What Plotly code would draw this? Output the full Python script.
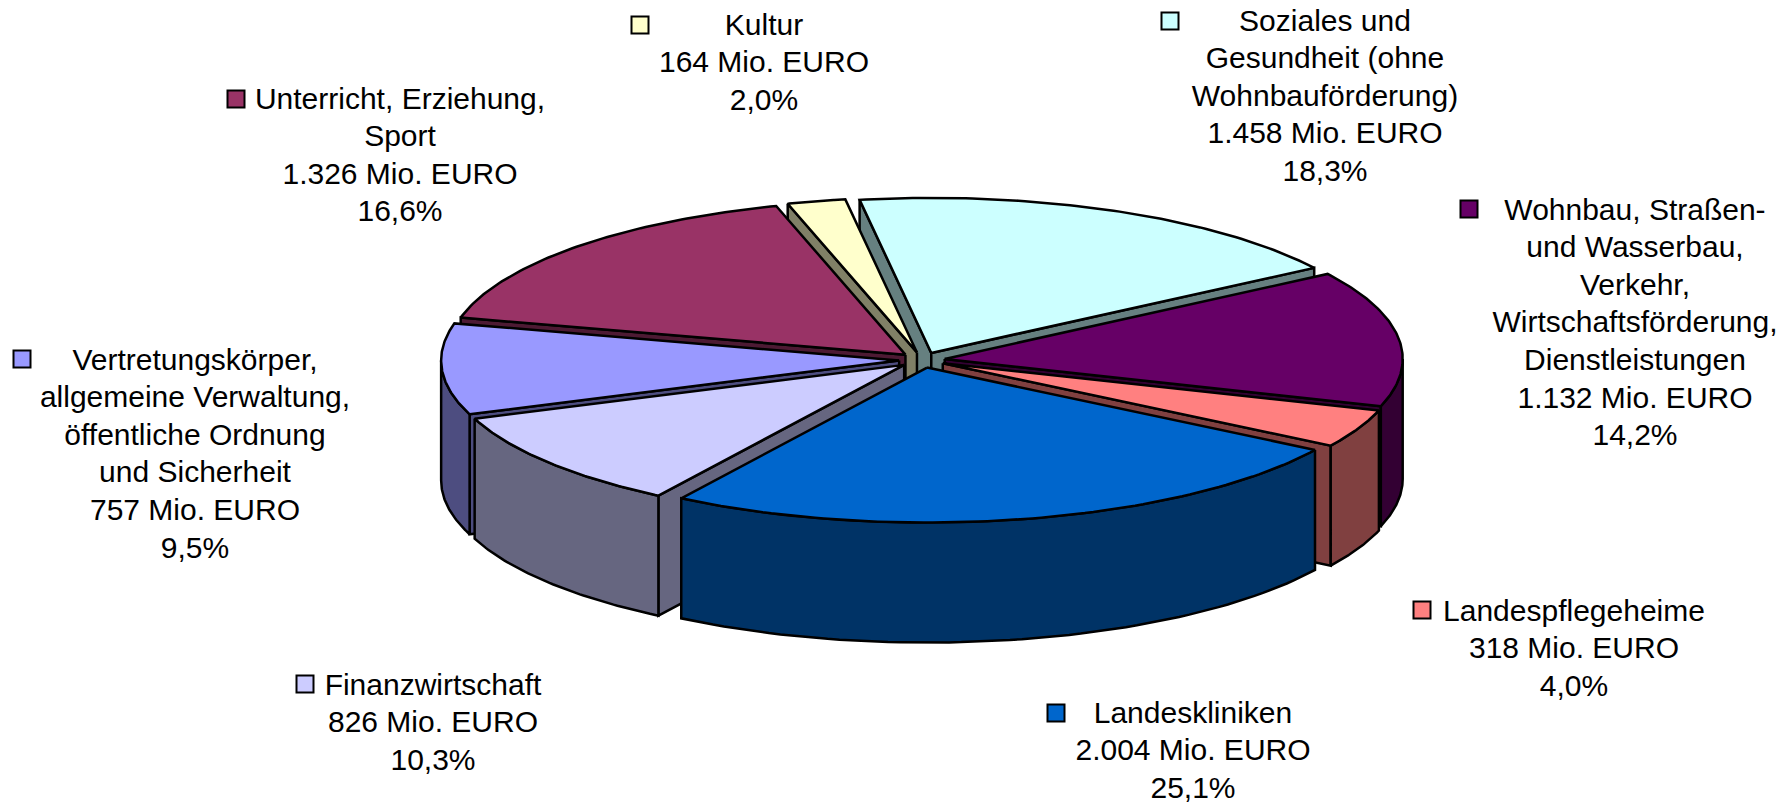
import numpy as np
import plotly.graph_objects as go

# ---- data -----------------------------------------------------------
categories = ["Soziales und Gesundheit (ohne Wohnbauförderung)",
              "Wohnbau, Straßen- und Wasserbau, Verkehr, Wirtschaftsförderung, Dienstleistungen",
              "Landespflegeheime", "Landeskliniken", "Finanzwirtschaft",
              "Vertretungskörper, allgemeine Verwaltung, öffentliche Ordnung und Sicherheit",
              "Unterricht, Erziehung, Sport", "Kultur"]
mio_euro = [1458, 1132, 318, 2004, 826, 757, 1326, 164]
share_labels = ["18,3%", "14,2%", "4,0%", "25,1%", "10,3%", "9,5%", "16,6%", "2,0%"]
amount_labels = ["1.458", "1.132", "318", "2.004", "826", "757", "1.326", "164"]
name_lines = [
    ["Soziales und", "Gesundheit (ohne", "Wohnbauförderung)"],
    ["Wohnbau, Straßen-", "und Wasserbau,", "Verkehr,", "Wirtschaftsförderung,", "Dienstleistungen"],
    ["Landespflegeheime"],
    ["Landeskliniken"],
    ["Finanzwirtschaft"],
    ["Vertretungskörper,", "allgemeine Verwaltung,", "öffentliche Ordnung", "und Sicherheit"],
    ["Unterricht, Erziehung,", "Sport"],
    ["Kultur"],
]
top_colors = ["#CCFFFF", "#660066", "#FF8080", "#0066CC", "#CCCCFF", "#9999FF", "#993366", "#FFFFCC"]
side_colors = ["#668080", "#330033", "#804040", "#003366", "#666680", "#4D4D80", "#4D1A33", "#808066"]

# ---- layout of the drawing ------------------------------------------
W, H = 1790, 803
CX, CY = 922, 360
RX, RY = 458, 155
DEPTH = 120
EXPLODE = 0.05
START_DEG = -9
draw_order = [0, 7, 6, 5, 1, 2, 4, 3]
label_cx = [1325, 1635, 1574, 1193, 433, 195, 400, 764]
label_y0 = [23, 212, 613, 715, 687, 362, 101, 27]
key_x = [1170, 1469, 1422, 1056, 305, 22, 236, 640]
key_y = [21, 209, 610, 713, 684, 359, 99, 25]
LINE_H = 37.6

fig = go.Figure()


def poly(xs, ys, color):
    fig.add_trace(go.Scatter(x=xs, y=ys, mode="lines", fill="toself", fillcolor=color,
                             line=dict(color="black", width=2.5), hoverinfo="skip",
                             showlegend=False))


fractions = np.array(mio_euro) / sum(mio_euro)
ends = START_DEG + 360 * np.cumsum(fractions)
starts = ends - 360 * fractions

for i in draw_order:
    a, b = np.radians(starts[i]), np.radians(ends[i])
    m = (a + b) / 2
    ox = CX + EXPLODE * RX * np.sin(m)
    oy = CY - EXPLODE * RY * np.cos(m)
    th = np.linspace(a, b, 80)
    ax = ox + RX * np.sin(th)
    ay = oy - RY * np.cos(th)
    # radial cut faces, only those turned towards the viewer
    for t, visible in ((a, np.sin(a) < 0), (b, np.sin(b) > 0)):
        if visible:
            ex, ey = ox + RX * np.sin(t), oy - RY * np.cos(t)
            poly([ox, ex, ex, ox, ox], [oy, ey, ey + DEPTH, oy + DEPTH, oy], side_colors[i])
    # outer wall: only the part of the rim facing the viewer
    lo, hi = max(a, np.pi / 2), min(b, 3 * np.pi / 2)
    if hi > lo:
        tw = np.linspace(lo, hi, 60)
        wx = ox + RX * np.sin(tw)
        wy = oy - RY * np.cos(tw)
        poly(list(wx) + list(wx[::-1]) + [wx[0]],
             list(wy) + list(wy[::-1] + DEPTH) + [wy[0]], side_colors[i])
    # top face
    poly([ox] + list(ax) + [ox], [oy] + list(ay) + [oy], top_colors[i])

# labels, one text point per line
tx, ty, tt = [], [], []
for i in range(len(categories)):
    lines = name_lines[i] + [f"{amount_labels[i]} Mio. EURO", share_labels[i]]
    for k, s in enumerate(lines):
        tx.append(label_cx[i])
        ty.append(label_y0[i] + k * LINE_H)
        tt.append(s)
fig.add_trace(go.Scatter(x=tx, y=ty, text=tt, mode="text", textposition="middle center",
                         textfont=dict(family="Liberation Sans, Arial, sans-serif", size=30, color="black"),
                         hoverinfo="skip", showlegend=False))

# legend keys
fig.add_trace(go.Scatter(x=key_x, y=key_y, mode="markers",
                         marker=dict(symbol="square", size=17, color=top_colors,
                                     line=dict(color="black", width=2)),
                         hoverinfo="skip", showlegend=False))

fig.update_layout(width=W, height=H, margin=dict(l=0, r=0, t=0, b=0),
                  paper_bgcolor="white", plot_bgcolor="white", showlegend=False)
fig.update_xaxes(range=[0, W], visible=False, fixedrange=True)
fig.update_yaxes(range=[H, 0], visible=False, fixedrange=True)
fig.write_html("out.html", config={"displayModeBar": False},
               post_script="document.body.style.margin='0';")
